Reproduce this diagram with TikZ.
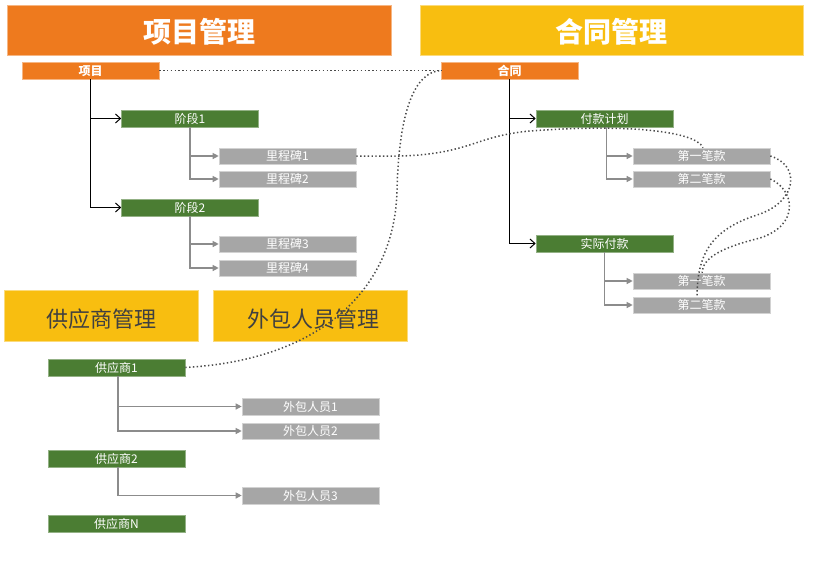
\documentclass[tikz,border=0pt]{standalone}
\usepackage{fontspec}
\setmainfont{Noto Sans CJK SC}
\usetikzlibrary{arrows.meta}
\definecolor{cOrange}{HTML}{EE7A1E}
\definecolor{cYellow}{HTML}{F8BE10}
\definecolor{cGreen}{HTML}{4B7D33}
\definecolor{cGray}{HTML}{A6A6A6}
\definecolor{cLine}{HTML}{8C8C8C}
\definecolor{cDot}{HTML}{4A4A4A}
\definecolor{cText}{HTML}{404040}
\tikzset{
  box/.style={rectangle, inner sep=0pt, text height=9.6pt, text depth=0.4pt, minimum width=137pt, minimum height=17pt, line width=0.6pt, font=\fontsize{12}{12}\selectfont, text=white},
  hdrbig/.style={rectangle, inner sep=0pt, text height=25.3pt, text depth=1pt, minimum width=384pt, minimum height=50pt, line width=0.6pt, font=\fontsize{28}{28}\selectfont\bfseries, text=white},
  hdrsub/.style={rectangle, inner sep=0pt, text height=24.3pt, text depth=0.5pt, minimum width=194pt, minimum height=51pt, line width=0.6pt, fill=cYellow, draw=cYellow!55!white, font=\fontsize{22}{22}\selectfont, text=cText},
  rootbox/.style={box, fill=cOrange, draw=cOrange!55!white, font=\fontsize{12}{12}\selectfont\bfseries},
  stagebox/.style={box, fill=cGreen, draw=cGreen!60!white},
  leafbox/.style={box, fill=cGray, draw=cGray!50!white, minimum height=16pt},
  blk/.style={draw=black, line width=1.2pt, -{Straight Barb[length=5pt,width=9pt,line width=1pt]}},
  gry/.style={draw=cLine, line width=1.2pt, -{Triangle[length=6pt,width=6pt]}},
  dots/.style={draw=cDot, line width=1.5pt, dash pattern=on 1.4pt off 2.4pt}
}
\begin{document}
\begin{tikzpicture}[x=1pt,y=-1pt]
\useasboundingbox (0,0) rectangle (816,562);
% headers
\node[hdrbig, fill=cOrange, draw=cOrange!55!white] (h1) at (199,30) {项目管理};
\node[hdrbig, fill=cYellow, draw=cYellow!55!white, minimum width=383pt] (h2) at (611.5,30) {合同管理};
\node[hdrsub] (h3) at (101,315.5) {供应商管理};
\node[hdrsub] (h4) at (310,315.5) {\hspace{6pt}外包人员管理};
% project tree
\node[rootbox] (xm) at (90.5,70.5) {项目};
\node[stagebox] (jd1) at (190,118.5) {阶段1};
\node[stagebox] (jd2) at (190,207.5) {阶段2};
\node[leafbox] (l1) at (287.5,156) {里程碑1};
\node[leafbox] (l2) at (287.5,179) {里程碑2};
\node[leafbox] (l3) at (287.5,244) {里程碑3};
\node[leafbox] (l4) at (287.5,268) {里程碑4};
% contract tree
\node[rootbox] (ht) at (509.5,70.5) {合同};
\node[stagebox] (fk) at (604.5,118.5) {付款计划};
\node[stagebox] (sj) at (604.5,243.5) {实际付款};
\node[leafbox] (p1) at (701.5,156) {第一笔款};
\node[leafbox] (p2) at (701.5,179) {第二笔款};
\node[leafbox] (a1) at (701.5,281) {第一笔款};
\node[leafbox] (a2) at (701.5,305) {第二笔款};
% supplier tree
\node[stagebox] (s1) at (116.5,367.5) {供应商1};
\node[stagebox] (s2) at (116.5,458.5) {供应商2};
\node[stagebox] (sn) at (116.5,523.5) {供应商N};
\node[leafbox, minimum height=17pt] (w1) at (310.5,406.5) {外包人员1};
\node[leafbox] (w2) at (310.5,431) {外包人员2};
\node[leafbox, minimum height=17pt] (w3) at (310.5,495.5) {外包人员3};
% connectors
\draw[blk] (xm.south) |- (jd1.west);
\draw[blk] (xm.south) |- (jd2.west);
\draw[gry] (jd1.south) |- (l1.west);
\draw[gry] (jd1.south) |- (l2.west);
\draw[gry] (jd2.south) |- (l3.west);
\draw[gry] (jd2.south) |- (l4.west);
\draw[blk] (ht.south) |- (fk.west);
\draw[blk] (ht.south) |- (sj.west);
\draw[gry] ([xshift=2pt]fk.south) |- (p1.west);
\draw[gry] ([xshift=2pt]fk.south) |- (p2.west);
\draw[gry] (sj.south) |- (a1.west);
\draw[gry] (sj.south) |- (a2.west);
\draw[gry] ([xshift=1.5pt]s1.south) |- (w1.west);
\draw[gry] ([xshift=1.5pt]s1.south) |- (w2.west);
\draw[gry] ([xshift=1.5pt]s2.south) |- (w3.west);
% dotted links
\draw[dots] (xm.east) -- (ht.west);
\draw[dots] (s1.east) .. controls (320,360) and (395,290) .. (397,190) .. controls (399,110) and (415,72) .. (ht.west);
\draw[dots] (l1.east) -- (400,156) .. controls (470,154) and (475,136) .. (530,131) .. controls (620,124) and (695,130) .. ([xshift=1.5pt]p1.north);
\draw[dots] (p1.east) .. controls (800,165) and (798,200) .. (760,214) .. controls (715,228) and (697,250) .. ([xshift=-4.5pt]a2.north);
\draw[dots] (p2.east) .. controls (795,190) and (800,225) .. (760,238) .. controls (720,248) and (703,258) .. ([xshift=0.5pt]a1.north);
\end{tikzpicture}
\end{document}
